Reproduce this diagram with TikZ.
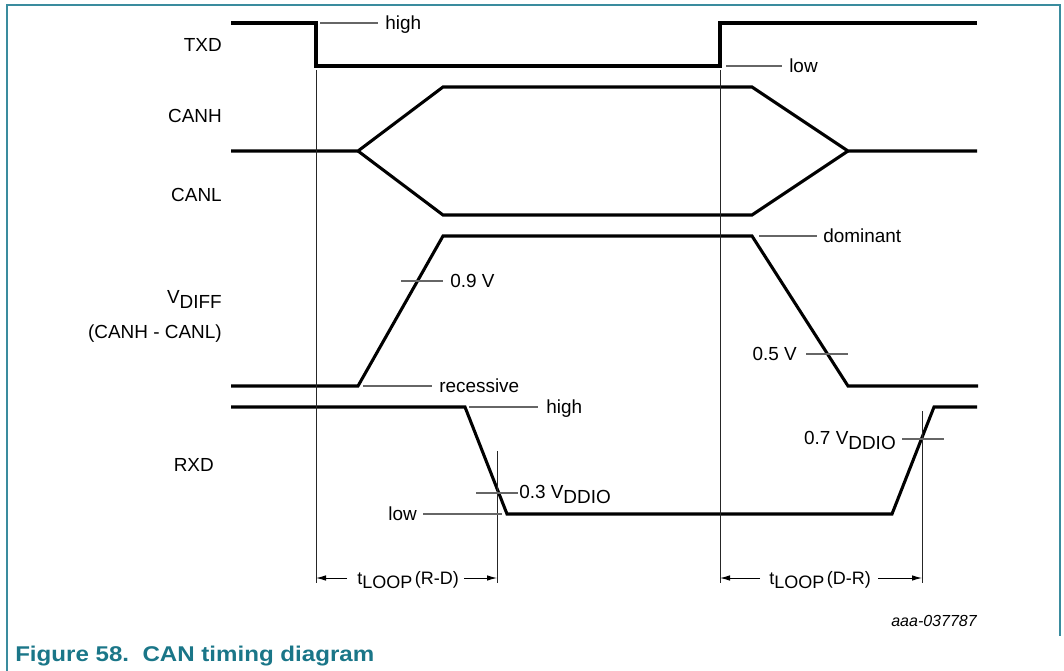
\documentclass[tikz,border=0pt]{standalone}
\usepackage{fontspec}
\setmainfont{Liberation Sans}
\usetikzlibrary{arrows.meta}
\definecolor{nxpteal}{RGB}{26,118,136}
\definecolor{framecol}{RGB}{58,140,158}
\tikzset{
  sig/.style={line width=2.3pt, line join=miter, line cap=butt},
  lead/.style={line width=0.8pt, draw=black!60},
  vline/.style={line width=0.75pt, draw=black!85},
  lbl/.style={font=\fontsize{14.2}{17}\selectfont, inner sep=0pt},
  dimlbl/.style={font=\fontsize{13.5}{16}\selectfont, inner sep=0pt},
  tag/.style={font=\fontsize{12}{14}\selectfont\itshape, inner sep=0pt},
  figcaption/.style={font=\fontsize{16}{19}\selectfont\bfseries, text=nxpteal, inner sep=0pt},
  dimarrow/.style={line width=0.75pt, -{Latex[length=7.5pt,width=4.2pt]}},
}
\newcommand{\lowpart}[2]{\raisebox{-#1}{#2}}
\begin{document}
\begin{tikzpicture}[x=0.75pt,y=-0.75pt]
\useasboundingbox (0,0) rectangle (1064,671);
% frame
\draw[framecol, line width=1pt] (7,671) -- (7,5) -- (1060,5) -- (1060,636);

% key coordinates
\coordinate (t0) at (231,23);
\coordinate (t1) at (316,23);
\coordinate (t2) at (316,66);
\coordinate (t3) at (720,66);
\coordinate (t4) at (720,23);
\coordinate (t5) at (977,23);

% TXD
\draw[sig] (t0) -- (t1) -- (t2) -- (t3) -- (t4) -- (t5);
% CANH / CANL
\draw[sig] (231,151) -- (358,151) -- (443,87) -- (752,87) -- (848,151) -- (977,151);
\draw[sig] (358,151) -- (443,215) -- (752,215) -- (848,151);
% VDIFF
\draw[sig] (231,386) -- (358,386) -- (443,236) -- (752,236) -- (848,386) -- (978,386);
% RXD
\draw[sig] (231,407) -- (465,407) -- (507,514) -- (892,514) -- (934,407) -- (977,407);

% vertical reference lines
\coordinate (vA) at (316,70);
\coordinate (vAb) at (316,583);
\coordinate (vB) at (720,70);
\coordinate (vBb) at (720,583);
\coordinate (vC) at (497,451);
\coordinate (vCb) at (497,583);
\coordinate (vD) at (922,411);
\coordinate (vDb) at (922,583);
\draw[vline] (vA) -- (vAb);
\draw[vline] (vB) -- (vBb);
\draw[vline] (vC) -- (vCb);
\draw[vline] (vD) -- (vDb);

% signal names
\node[lbl, anchor=base east] (txd) at (222,51.5) {TXD};
\node[lbl, anchor=base east] (canh) at (222,122.5) {CANH};
\node[lbl, anchor=base east] (canl) at (222,201.5) {CANL};
\node[lbl, anchor=base east] (vdiff) at (222,303) {V\lowpart{3.8pt}{DIFF}};
\node[lbl, anchor=base east] (diffdef) at (222,338) {(CANH - CANL)};
\node[lbl, anchor=base east] (rxd) at (214,471) {RXD};

% level annotations
\node[lbl, anchor=base west] (txhigh) at (385,29) {high};
\draw[lead] (320,23) -- (378,23);
\node[lbl, anchor=base west] (txlow) at (789,72) {low};
\draw[lead] (726,66) -- (782,66);

\node[lbl, anchor=base west] (v09) at (450,287) {0.9 V};
\draw[lead] (401,281) -- (443,281);
\node[lbl, anchor=base west] (rec) at (439,392) {recessive};
\draw[lead] (363,386) -- (432,386);
\node[lbl, anchor=base west] (dom) at (823,242) {dominant};
\draw[lead] (759,236) -- (817,236);
\node[lbl, anchor=base east] (v05) at (797,360) {0.5 V};
\draw[lead] (806,354) -- (848,354);

\node[lbl, anchor=base west] (rxhigh) at (546,413) {high};
\draw[lead] (469,407) -- (538,407);
\node[lbl, anchor=base west] (v03) at (519,498) {0.3 V\lowpart{3.8pt}{DDIO}};
\draw[lead] (476,493) -- (518,493);
\node[lbl, anchor=base east] (rxlow) at (417,520) {low};
\draw[lead] (423,514) -- (502,514);
\node[lbl, anchor=base east] (v07) at (896,444) {0.7 V\lowpart{3.8pt}{DDIO}};
\draw[lead] (902,439) -- (944,439);

% loop delay dimensions
\node[dimlbl, anchor=base west] (tloop1) at (357,584) {t\lowpart{3.5pt}{LOOP}\kern2pt(R-D)};
\draw[dimarrow] (347,578) -- (316,578);
\draw[dimarrow] (464,578) -- (497,578);
\node[dimlbl, anchor=base west] (tloop2) at (769,584) {t\lowpart{3.5pt}{LOOP}\kern2pt(D-R)};
\draw[dimarrow] (760,578) -- (720,578);
\draw[dimarrow] (878,578) -- (922,578);

% figure id and caption
\node[tag, anchor=base east] (figid) at (977,626) {aaa-037787};
\node[figcaption, anchor=base west] (caption) at (15,661) {\scalebox{1.13}[1]{Figure 58.\ \ CAN timing diagram}};
\end{tikzpicture}
\end{document}
